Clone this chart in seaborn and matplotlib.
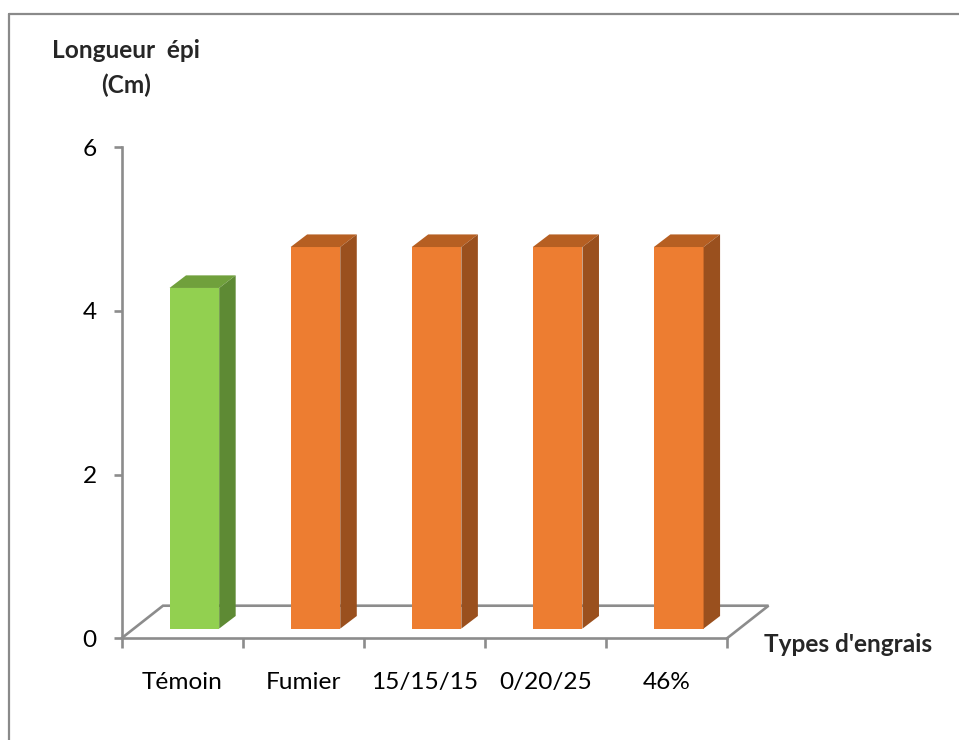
import matplotlib
matplotlib.use("Agg")
import matplotlib.pyplot as plt
import seaborn as sns
import pandas as pd
from matplotlib.patches import Polygon
from matplotlib.lines import Line2D

# Data
categories = ["Témoin", "Fumier", "15/15/15", "0/20/25", "46%"]
values = [4.16, 4.66, 4.66, 4.66, 4.66]
y_ticks = [0, 2, 4, 6]
y_label = "Longueur  épi"
y_unit = "(Cm)"
x_label = "Types d'engrais"

# Face colours of each column (front, top, side)
front_colors = ["#92D050", "#ED7D31", "#ED7D31", "#ED7D31", "#ED7D31"]
top_colors = ["#70A03C", "#B65F22", "#B65F22", "#B65F22", "#B65F22"]
side_colors = ["#5E8A34", "#9A501E", "#9A501E", "#9A501E", "#9A501E"]

sns.set_theme(style="white")
plt.rcParams["font.family"] = ["Lato", "DejaVu Sans"]

W, H = 959, 740
fig = plt.figure(figsize=(W / 100, H / 100), dpi=100)

# plot area in pixels (front edge of the floor, value axis 0..6)
x0px, x1px, y0px, y1px = 121.5, 727.0, 638.3, 147.0
ax = fig.add_axes([x0px / W, 1 - y0px / H, (x1px - x0px) / W, (y0px - y1px) / H])

df = pd.DataFrame({"type": categories, "longueur": values})
sns.barplot(data=df, x="type", y="longueur", hue="type", palette=front_colors,
            width=0.41, saturation=1, legend=False, ax=ax, zorder=3)
ax.set_xlim(-0.5, len(categories) - 0.5)
ax.set_ylim(0, 6)

# pixel -> data conversion factors
px_x = len(categories) / (x1px - x0px)
px_y = 6 / (y0px - y1px)

# depth of the floor, position of the column fronts and column depth (pixels)
floor_dx, floor_dy = 41.5, 32.6
front_dx, front_dy = 12.3, 9.7
side_dx, side_dy = 16.5, 12.6

gray = "#8C8C8C"
fs = 17.6

# floor outline (front edge is the bottom spine)
fx = [-0.5, -0.5 + floor_dx * px_x, 4.5 + floor_dx * px_x, 4.5]
fy = [0, floor_dy * px_y, floor_dy * px_y, 0]
ax.add_line(Line2D(fx, fy, color=gray, lw=1.9, clip_on=False, zorder=1,
                   solid_joinstyle="miter"))

# extrude the columns
for i, patch in enumerate(ax.patches):
    x = patch.get_x() + front_dx * px_x
    w = patch.get_width()
    b = front_dy * px_y
    h = patch.get_height()
    patch.set_x(x)
    patch.set_y(b)
    patch.set_edgecolor("none")
    patch.set_clip_on(False)
    sx, sy = side_dx * px_x, side_dy * px_y
    top = b + h
    ax.add_patch(Polygon([(x, top), (x + w, top), (x + w + sx, top + sy), (x + sx, top + sy)],
                         closed=True, facecolor=top_colors[i], edgecolor="none",
                         clip_on=False, zorder=3))
    ax.add_patch(Polygon([(x + w, b), (x + w + sx, b + sy), (x + w + sx, top + sy), (x + w, top)],
                         closed=True, facecolor=side_colors[i], edgecolor="none",
                         clip_on=False, zorder=3))

# axes styling
for side in ["top", "right"]:
    ax.spines[side].set_visible(False)
for side in ["left", "bottom"]:
    ax.spines[side].set_color(gray)
    ax.spines[side].set_linewidth(1.9)
    ax.spines[side].set_zorder(2)

ax.set_yticks(y_ticks)
ax.set_yticklabels([str(t) for t in y_ticks])
ax.tick_params(axis="y", direction="out", length=6, width=1.9, color=gray,
               labelsize=fs, labelcolor="black", pad=12, left=True)
ax.set_xticks(range(len(categories)))
ax.set_xticklabels(categories)
ax.set_xticks([i - 0.5 for i in range(len(categories) + 1)], minor=True)
ax.tick_params(axis="x", which="major", length=0, labelsize=fs, labelcolor="black", pad=24)
ax.tick_params(axis="x", which="minor", direction="out", length=7, width=1.9,
               color=gray, bottom=True)
ax.set_xlabel("")
ax.set_ylabel("")
ax.grid(False)

# axis titles
fig.text(126 / W, 1 - 51 / H, y_label, ha="center", va="center",
         fontsize=fs, fontweight="bold")
fig.text(126 / W, 1 - 85 / H, y_unit, ha="center", va="center",
         fontsize=fs, fontweight="bold")
fig.text(764 / W, 1 - 644 / H, x_label, ha="left", va="center",
         fontsize=fs, fontweight="bold")

# chart border
fig.add_artist(Line2D([8.5 / W, 1.0], [1 - 13.5 / H, 1 - 13.5 / H],
                      transform=fig.transFigure, color="#8A8A8A", lw=1.6))
fig.add_artist(Line2D([8.5 / W, 8.5 / W], [1 - 13.5 / H, 0.0],
                      transform=fig.transFigure, color="#8A8A8A", lw=1.6))

fig.savefig("out.png", dpi=100)
